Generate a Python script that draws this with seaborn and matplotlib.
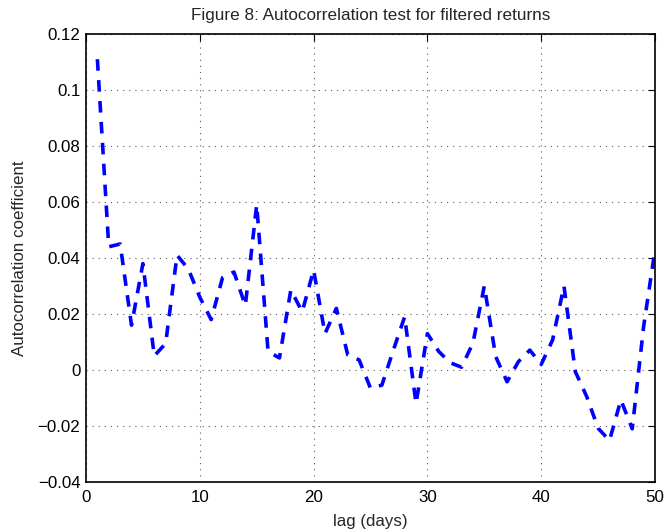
import matplotlib
matplotlib.use("Agg")
import matplotlib.pyplot as plt
import seaborn as sns
import pandas as pd

lags = list(range(1, 51))
acf = [0.111, 0.044, 0.045, 0.016, 0.038, 0.005, 0.0095, 0.041, 0.036, 0.026,
       0.018, 0.033, 0.035, 0.023, 0.059, 0.0066, 0.0043, 0.0286, 0.0208, 0.0357,
       0.013, 0.022, 0.0054, 0.0036, -0.0065, -0.0054, 0.007, 0.019, -0.012, 0.013,
       0.0066, 0.0026, 0.001, 0.0096, 0.030, 0.0048, -0.0042, 0.003, 0.0071, 0.002,
       0.0107, 0.030, -0.0006, -0.0095, -0.0208, -0.0252, -0.0107, -0.021, 0.0155, 0.043]

xticks = [0, 10, 20, 30, 40, 50]
yticks = [-0.04, -0.02, 0, 0.02, 0.04, 0.06, 0.08, 0.1, 0.12]
yticklabels = ["\u22120.04", "\u22120.02", "0", "0.02", "0.04", "0.06", "0.08", "0.1", "0.12"]

title = "Figure 8: Autocorrelation test for filtered returns"
xlabel = "lag (days)"
ylabel = "Autocorrelation coefficient"

sns.set_style("white")
plt.rcParams["font.family"] = ["Liberation Sans", "DejaVu Sans"]

df = pd.DataFrame({"lag": lags, "acf": acf})

fig = plt.figure(figsize=(6.65, 5.30), dpi=100)
ax = fig.add_axes([86 / 665, 1 - 482 / 530, (655 - 86) / 665, (482 - 34) / 530])

sns.lineplot(data=df, x="lag", y="acf", ax=ax, color="#0000ff", linewidth=2.6,
             linestyle=(0, (3.2, 2.6)))

ax.set_xlim(0, 50)
ax.set_ylim(-0.04, 0.12)
ax.set_xticks(xticks)
ax.set_xticklabels([str(t) for t in xticks])
ax.set_yticks(yticks)
ax.set_yticklabels(yticklabels)

ax.grid(True, linestyle=(0, (1, 4.5)), color="#333333", linewidth=0.8, alpha=0.8)
for s in ax.spines.values():
    s.set_visible(True)
    s.set_color("black")
    s.set_linewidth(1.2)

ax.tick_params(direction="in", length=5, width=0.8, top=True, right=True,
               labelsize=12.2, colors="black", pad=4)
ax.tick_params(axis="x", pad=6)
ax.set_title(title, fontsize=12.3, pad=10)
ax.set_xlabel(xlabel, fontsize=12.2, labelpad=6)
ax.set_ylabel(ylabel, fontsize=12.2, labelpad=8)

fig.savefig("out.png", dpi=100)
